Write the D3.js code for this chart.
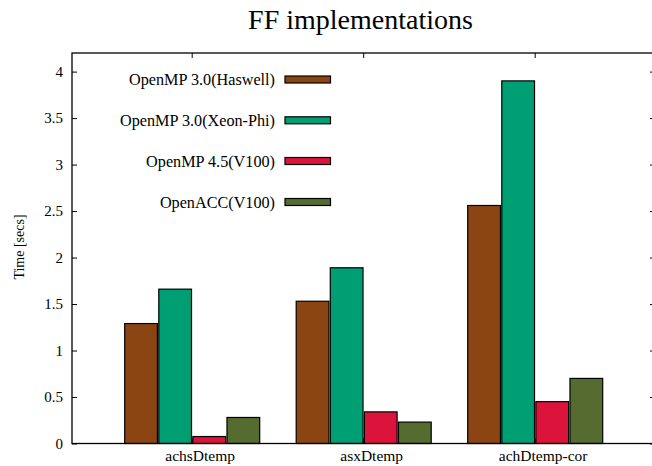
<!DOCTYPE html>
<html>
<head>
<meta charset="utf-8">
<script src="https://cdn.jsdelivr.net/npm/d3@7"></script>
<style>
  html, body { margin: 0; padding: 0; background: #fff; }
  svg { display: block; }
  text { font-family: "Liberation Serif", "Times New Roman", serif; fill: #000; }
</style>
</head>
<body>
<svg id="chart" width="652" height="466"></svg>
<script>
const categories = ["achsDtemp", "asxDtemp", "achDtemp-cor"];
const seriesNames = ["OpenMP 3.0(Haswell)", "OpenMP 3.0(Xeon-Phi)", "OpenMP 4.5(V100)", "OpenACC(V100)"];
const haswell = [1.29, 1.53, 2.56];
const xeonPhi = [1.66, 1.89, 3.90];
const v100omp = [0.075, 0.34, 0.45];
const v100acc = [0.28, 0.23, 0.70];
const seriesColors = ["#8B4513", "#009E73", "#DC143C", "#556B2F"];
const yTicks = [0, 0.5, 1, 1.5, 2, 2.5, 3, 3.5, 4];
const yTickLabels = ["0", "0.5", "1", "1.5", "2", "2.5", "3", "3.5", "4"];

const seriesValues = [haswell, xeonPhi, v100omp, v100acc];

const svg = d3.select("#chart");
const plot = { left: 72, right: 655, top: 53, bottom: 443.5 };

const y = d3.scaleLinear().domain([0, 4.2]).range([plot.bottom, plot.top]);
const x0 = d3.scaleBand().domain(categories).range([124.7, 124.7 + 3 * 171.5]).paddingInner(0).paddingOuter(0);
const x1 = d3.scaleBand().domain(seriesNames).range([0, 135]).paddingInner(0.04).paddingOuter(0);
const clusterCenter = c => x0(c) + 135 / 2;

// Title
svg.append("text").attr("x", 360.5).attr("y", 29.3).attr("text-anchor", "middle")
  .style("font-size", "28px").text("FF implementations");

// Y axis label
svg.append("text").attr("transform", "translate(24,247) rotate(-90)")
  .attr("text-anchor", "middle").style("font-size", "14px").text("Time [secs]");

// Y ticks (left and mirrored right)
const yAxisL = d3.axisLeft(y).tickValues(yTicks).tickSize(-5).tickPadding(9)
  .tickFormat((d, i) => yTickLabels[i]);
const gL = svg.append("g").attr("transform", `translate(${plot.left},0)`).call(yAxisL);
gL.select(".domain").remove();
gL.selectAll("line").attr("stroke", "#000").attr("stroke-width", 1);
gL.selectAll("text").style("font-size", "15px").style("font-family", "Liberation Serif, serif");

const yAxisR = d3.axisRight(y).tickValues(yTicks).tickSize(-5).tickFormat("");
const gR = svg.append("g").attr("transform", `translate(${plot.right},0)`).call(yAxisR);
gR.select(".domain").remove();
gR.selectAll("line").attr("stroke", "#000").attr("stroke-width", 1);

// X ticks top (mirrored) and bottom
categories.forEach(c => {
  const cx = clusterCenter(c);
  svg.append("line").attr("x1", cx).attr("x2", cx).attr("y1", plot.top).attr("y2", plot.top + 5)
    .attr("stroke", "#000");
  svg.append("line").attr("x1", cx).attr("x2", cx).attr("y1", plot.bottom).attr("y2", plot.bottom - 5)
    .attr("stroke", "#000");
});

// Bars
const groups = svg.append("g").selectAll("g").data(categories).join("g")
  .attr("transform", c => `translate(${x0(c)},0)`);
groups.selectAll("rect").data((c, ci) => seriesNames.map((s, si) => ({ s, si, v: seriesValues[si][ci] })))
  .join("rect")
  .attr("x", d => x1(d.s))
  .attr("width", x1.bandwidth())
  .attr("y", d => y(d.v))
  .attr("height", d => y(0) - y(d.v))
  .attr("fill", d => seriesColors[d.si])
  .attr("stroke", "#000")
  .attr("stroke-width", 1.2);

// Category labels
svg.append("g").selectAll("text").data(categories).join("text")
  .attr("x", c => clusterCenter(c) + 8)
  .attr("y", 461)
  .attr("text-anchor", "middle")
  .style("font-size", "15.5px")
  .text(c => c);

// Border
svg.append("rect").attr("x", plot.left).attr("y", plot.top)
  .attr("width", plot.right - plot.left).attr("height", plot.bottom - plot.top)
  .attr("fill", "none").attr("stroke", "#000").attr("stroke-width", 1.3);

// Legend
const legend = svg.append("g");
const legendRowY = [79.5, 120.3, 161, 202];
seriesNames.forEach((s, i) => {
  const ly = legendRowY[i];
  legend.append("text").attr("x", 275).attr("y", ly + 5.5).attr("text-anchor", "end")
    .style("font-size", "16.2px").text(s);
  legend.append("rect").attr("x", 285).attr("y", ly - 3.5).attr("width", 45.5).attr("height", 7)
    .attr("fill", seriesColors[i]).attr("stroke", "#000").attr("stroke-width", 1.2);
});
</script>
</body>
</html>
